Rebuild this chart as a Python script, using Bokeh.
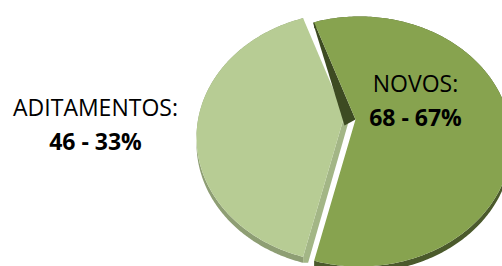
import numpy as np
from bokeh.plotting import figure
from bokeh.models import Range1d
from bokeh.embed import file_html
from bokeh.resources import INLINE
from bokeh.core.properties import value

# ---- data ----
categories = ["ADITAMENTOS", "NOVOS"]
counts = [46, 68]
percents = [33, 67]

# ---- styles ----
face_colors = ["#b7cc94", "#87a34f"]
cut_colors = ["#a3b686", "#3d4b22"]
rim_colors = ["#8e9e74", "#4b5a2c"]
FONT = "Open Sans"

# ---- layout (screen-like coordinates: y grows downward) ----
W, H = 502, 266
p = figure(width=W, height=H, x_range=Range1d(0, W), y_range=Range1d(H, 0),
           output_backend="svg", toolbar_location=None, min_border=0)
p.axis.visible = False
p.grid.visible = False
p.outline_line_color = None
p.background_fill_color = "white"
p.border_fill_color = "white"

cx, cy = 353, 139
rx, ry = 152, 125
apex_off = np.array([-4.0, -22.0])
explode = [np.array([-5.0, -2.0]), np.array([6.0, 2.0])]
depth = 6
cut_shift = [np.array([5.0, 3.0]), np.array([-11.0, 6.0])]
cut_taper = [1.0, 0.1]

total = float(sum(counts))
half = counts[0] / total * np.pi
ranges = [(np.pi - half, np.pi + half), (np.pi + half, np.pi - half + 2 * np.pi)]


def arc(c, t0, t1, n=240):
    t = np.linspace(t0, t1, n)
    return c[0] + rx * np.cos(t), c[1] - ry * np.sin(t)


for i in range(len(counts)):
    c = np.array([cx, cy], dtype=float) + explode[i]
    apex = c + apex_off
    t0, t1 = ranges[i]
    ax, ay = arc(c, t0, t1)
    # rim band (outer side)
    p.patch(np.concatenate([ax, ax[::-1]]), np.concatenate([ay + depth, ay[::-1]]),
            fill_color=rim_colors[i], line_color=None)
    # visible cut face at the end edge
    E = np.array([ax[-1], ay[-1]])
    s = cut_shift[i]
    if i == 0:
        pts = [apex, E, E + np.array([0, depth]), E + s + np.array([0, depth * 0.5]), apex + s]
    else:
        pts = [apex, E, E + s * cut_taper[i], apex + s]
    p.patch([q[0] for q in pts], [q[1] for q in pts], fill_color=cut_colors[i], line_color=None)
    # top face
    p.patch(np.concatenate([[apex[0]], ax]), np.concatenate([[apex[1]], ay]),
            fill_color=face_colors[i], line_color=None)

# ---- labels ----
label_pos = [(95, 106), (415, 82)]
line_gap = 34
for i in range(len(counts)):
    x0, y0 = label_pos[i]
    p.text(x=[x0], y=[y0], text=[f"{categories[i]}:"], text_font=value(FONT),
           text_font_size="23px", text_align="center", text_baseline="alphabetic",
           text_color="black")
    p.text(x=[x0], y=[y0 + line_gap], text=[f"{counts[i]} - {percents[i]}%"],
           text_font=value(FONT), text_font_size="23px", text_font_style="bold",
           text_align="center", text_baseline="alphabetic", text_color="black")

open("out.html", "w").write(file_html(p, INLINE))
